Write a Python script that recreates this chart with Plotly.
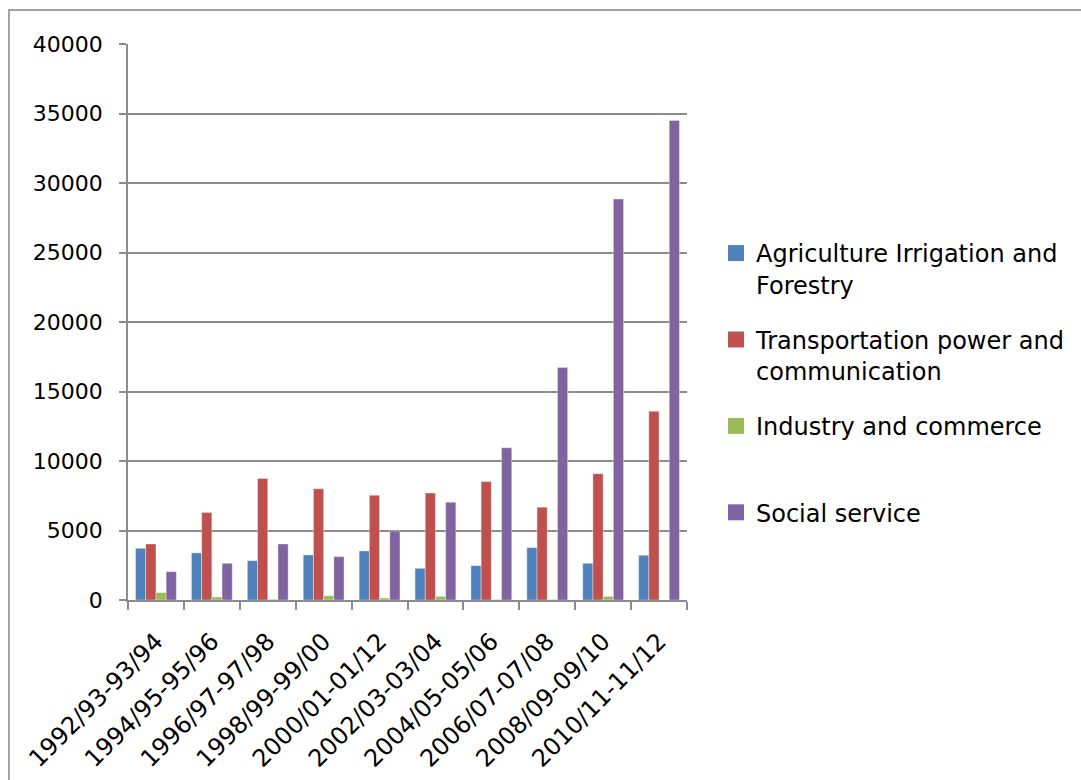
import plotly.graph_objects as go

# Plan outlay by sector, per plan period
periods = ["1992/93-93/94", "1994/95-95/96", "1996/97-97/98", "1998/99-99/00",
           "2000/01-01/12", "2002/03-03/04", "2004/05-05/06", "2006/07-07/08",
           "2008/09-09/10", "2010/11-11/12"]
agriculture = [3720, 3390, 2830, 3240, 3530, 2280, 2470, 3770, 2640, 3220]
transport = [4030, 6290, 8740, 8000, 7540, 7690, 8520, 6680, 9080, 13580]
industry = [530, 220, 50, 310, 140, 260, 40, 40, 260, 0]
social = [2040, 2640, 4030, 3120, 4970, 7040, 10950, 16720, 28850, 34500]

series = [
    ("Agriculture Irrigation and<br>Forestry", agriculture, "#4F81BD"),
    ("Transportation power and<br>communication", transport, "#C0504D"),
    ("Industry and commerce<br> ", industry, "#9BBB59"),
    ("Social service", social, "#8064A2"),
]

FONT = "DejaVu Sans"
GRID = "#8C8C8C"

fig = go.Figure()
for i, (name, vals, color) in enumerate(series):
    fig.add_trace(go.Bar(
        x=periods, y=vals, name=name, legendgroup=f"g{i}", showlegend=False,
        marker=dict(color=color, line=dict(color="rgba(255,255,255,0.6)", width=0.6)),
    ))
    # legend key: a filled square swatch
    fig.add_trace(go.Scatter(
        x=[None], y=[None], mode="markers", name=name, legendgroup=f"g{i}",
        marker=dict(symbol="square", size=16, color=color),
    ))

W, H = 1081, 780
L, R, T, B = 128, 394, 44, 180
pw, ph = W - L - R, H - T - B

fig.update_layout(
    width=W, height=H,
    margin=dict(l=L, r=R, t=T, b=B, pad=0, autoexpand=False),
    paper_bgcolor="white", plot_bgcolor="white",
    barmode="group", bargap=0.27, bargroupgap=0,
    font=dict(family=FONT, color="black"),
    showlegend=True,
    legend=dict(
        x=(716 - L) / pw, y=1 - (231 - T) / ph, xanchor="left", yanchor="top",
        font=dict(family=FONT, size=24, color="black"),
        valign="top", tracegroupgap=21, itemsizing="trace",
        bgcolor="rgba(0,0,0,0)",
    ),
    shapes=[dict(
        type="rect", xref="paper", yref="paper", layer="below",
        x0=(9 - L) / pw, x1=(W + 10 - L) / pw,
        y0=-(H + 10 - T - ph) / ph, y1=1 + (T - 10) / ph,
        line=dict(color="#868686", width=1.5), fillcolor="rgba(0,0,0,0)",
    )],
)

fig.update_xaxes(
    type="category", tickangle=-45, tickson="boundaries", automargin=False,
    ticks="outside", ticklen=8, tickcolor=GRID, tickwidth=1.5,
    showline=True, linecolor=GRID, linewidth=1.5, ticklabelstandoff=16,
    showgrid=False, tickfont=dict(family=FONT, size=24, color="black"),
)
fig.update_yaxes(
    range=[0, 40000], dtick=5000, tickformat="d", automargin=False,
    ticks="outside", ticklen=7, tickcolor=GRID, tickwidth=1.5,
    showline=True, linecolor=GRID, linewidth=1.5, ticklabelstandoff=12,
    showgrid=True, gridcolor=GRID, gridwidth=1.5, zeroline=False,
    tickfont=dict(family=FONT, size=22, color="black"),
)

fig.write_html("out.html")
